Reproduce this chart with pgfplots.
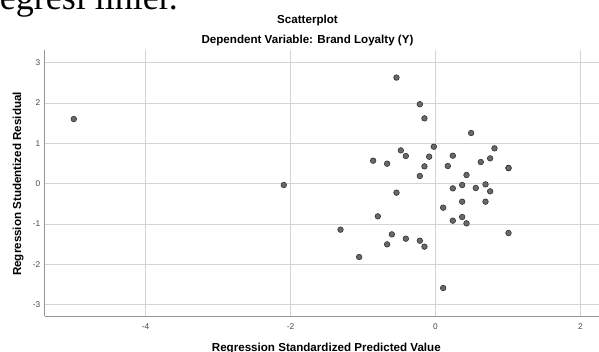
\documentclass[border=0pt]{standalone}
\usepackage{fontspec}
\setmainfont{Liberation Sans}
\newfontfamily\serifdoc{Liberation Serif}
\usepackage{pgfplots}
\pgfplotsset{compat=1.18}
\definecolor{gridc}{RGB}{212,212,212}
\definecolor{axc}{RGB}{150,150,150}
\definecolor{ptfill}{RGB}{105,105,105}
\definecolor{ptedge}{RGB}{50,50,50}
\definecolor{tickc}{RGB}{70,70,70}
\pgfplotstableread{
x y
-4.989 1.603
-2.092 -0.033
-0.538 2.63
-0.216 1.97
-0.152 1.62
0.492 1.256
-0.023 0.917
0.814 0.876
-0.478 0.826
-0.409 0.686
-0.087 0.669
0.239 0.694
-0.860 0.570
-0.667 0.496
-0.152 0.430
0.170 0.438
0.625 0.537
0.754 0.628
1.007 0.388
1.007 0.388
-0.216 0.190
0.428 0.215
0.368 -0.033
0.239 -0.116
0.556 -0.107
0.690 -0.017
0.754 -0.190
-0.538 -0.223
0.368 -0.446
0.690 -0.446
0.106 -0.595
-0.795 -0.810
0.239 -0.917
0.368 -0.826
0.428 -0.983
-1.310 -1.140
-0.602 -1.256
1.007 -1.223
-0.409 -1.364
-0.216 -1.413
-0.667 -1.504
-0.152 -1.562
-1.053 -1.818
0.106 -2.587
}\resid
\begin{document}
\begin{tikzpicture}
\begin{axis}[
  at={(44.5pt,35.5pt)}, anchor=south west,
  scale only axis, width=561.5pt, height=266.5pt,
  xmin=-5.393, xmax=2.352, ymin=-3.293, ymax=3.315,
  axis lines*=left,
  axis line style={draw=axc, line width=1pt},
  xtick={-4,-2,0,2}, ytick={-3,-2,-1,0,1,2,3},
  grid=major, major grid style={draw=gridc, line width=1pt},
  major tick length=0pt,
  tick label style={font=\fontsize{8.3}{9}\selectfont, text=tickc},
  xticklabel style={yshift=-4pt},
  yticklabel style={xshift=-0.7pt},
  /pgf/number format/assume math mode=true,
]
\addplot[only marks, mark=*, mark size=2.8pt, mark options={fill=ptfill, draw=ptedge, line width=0.6pt}] table[x=x,y=y] {\resid};
\end{axis}
\node[anchor=base, font=\bfseries\fontsize{11.6}{13}\selectfont, inner sep=0] at (307.5pt,328.7pt) {Scatterplot};
\node[anchor=base, font=\bfseries\fontsize{11.6}{13}\selectfont, inner sep=0] at (307.5pt,308.7pt) {Dependent Variable: Brand Loyalty (Y)};
\node[anchor=base, font=\bfseries\fontsize{11.6}{13}\selectfont, inner sep=0] at (326.3pt,0.4pt) {Regression Standardized Predicted Value};
\node[anchor=base, rotate=90, font=\bfseries\fontsize{11.6}{13}\selectfont, inner sep=0] at (21pt,168pt) {Regression Studentized Residual};
\node[anchor=base east, font=\serifdoc\fontsize{36}{40}\selectfont, inner sep=0] at (178pt,342.7pt) {regresi linier.};
\pgfresetboundingbox
\useasboundingbox (0,0) rectangle (599pt,352pt);
\end{tikzpicture}
\end{document}
